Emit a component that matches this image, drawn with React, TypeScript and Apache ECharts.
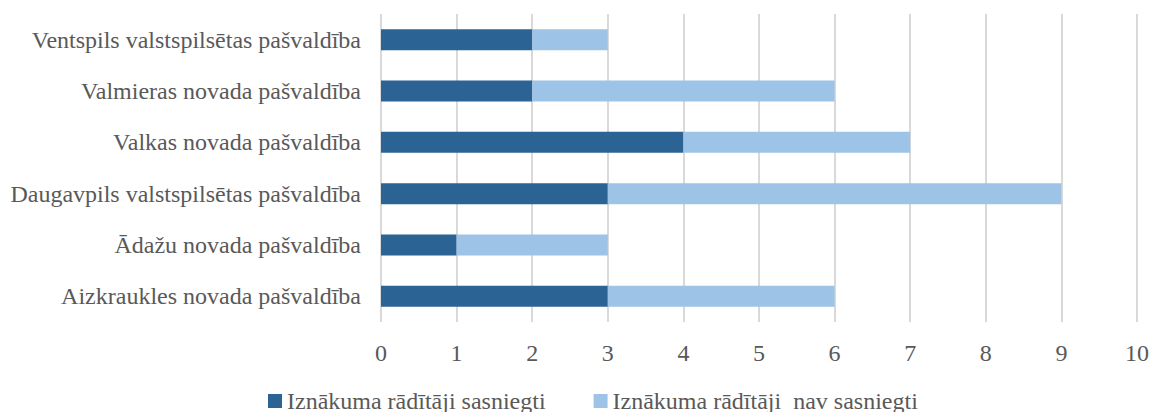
import React, { useEffect, useRef } from "react";
import * as echarts from "echarts";

const categories = [
  "Aizkraukles novada pašvaldība",
  "Ādažu novada pašvaldība",
  "Daugavpils valstspilsētas pašvaldība",
  "Valkas novada pašvaldība",
  "Valmieras novada pašvaldība",
  "Ventspils valstspilsētas pašvaldība",
];
const achieved = [3, 1, 3, 4, 2, 2];
const notAchieved = [3, 2, 6, 3, 4, 1];
const seriesNames = ["Iznākuma rādītāji sasniegti", "Iznākuma rādītāji  nav sasniegti"];

export default function App() {
  const ref = useRef<HTMLDivElement>(null);
  useEffect(() => {
    const chart = echarts.init(ref.current!, null, { renderer: "svg" });
    const font = "Liberation Serif";
    chart.setOption({
      animation: false,
      textStyle: { fontFamily: font, fontSize: 24 },
      grid: { left: 381, right: 13, top: 14, bottom: 90, containLabel: false },
      legend: {
        top: 389,
        left: 268,
        itemWidth: 14,
        itemHeight: 14,
        itemGap: 48,
        icon: "rect",
        padding: 0,
        textStyle: { fontFamily: font, fontSize: 24, color: "#595959" },
        data: seriesNames,
      },
      xAxis: {
        type: "value",
        min: 0,
        max: 10,
        interval: 1,
        axisLine: { show: false },
        axisTick: { show: false },
        axisLabel: { fontFamily: font, fontSize: 24, color: "#595959", margin: 19 },
        splitLine: { show: true, lineStyle: { color: "#d9d9d9", width: 2 } },
      },
      yAxis: {
        type: "category",
        data: categories,
        axisLine: { show: false },
        axisTick: { show: false },
        axisLabel: { fontFamily: font, fontSize: 24, color: "#595959", margin: 20 },
      },
      series: [
        {
          name: seriesNames[0],
          type: "bar",
          stack: "a",
          data: achieved,
          barWidth: 21,
          itemStyle: { color: "#2B6394" },
        },
        {
          name: seriesNames[1],
          type: "bar",
          stack: "a",
          data: notAchieved,
          barWidth: 21,
          itemStyle: { color: "#9DC3E6" },
        },
      ],
    });
    return () => chart.dispose();
  }, []);
  return (
    <div
      ref={ref}
      style={{ position: "absolute", left: 0, top: 0, width: 1152, height: 412, background: "#fff" }}
    />
  );
}
